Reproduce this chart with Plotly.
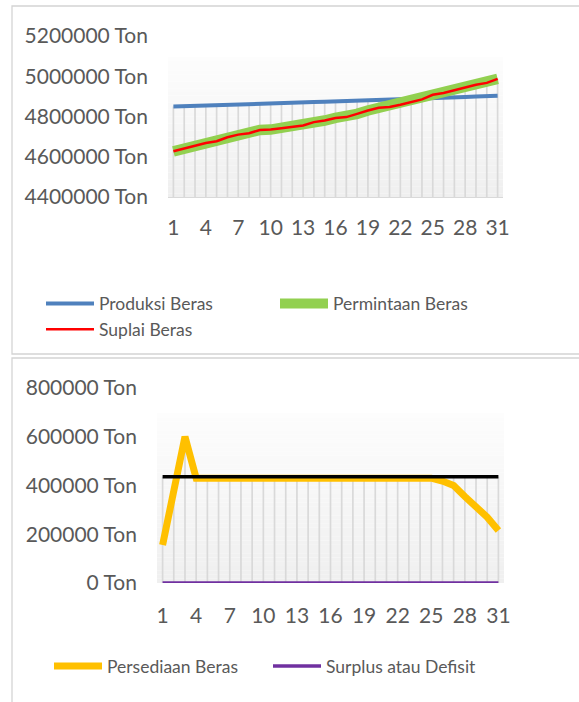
import plotly.graph_objects as go

# ---- data -------------------------------------------------------------
days = [1, 2, 3, 4, 5, 6, 7, 8, 9, 10, 11, 12, 13, 14, 15, 16,
        17, 18, 19, 20, 21, 22, 23, 24, 25, 26, 27, 28, 29, 30, 31]
day_ticks = [1, 4, 7, 10, 13, 16, 19, 22, 25, 28, 31]
day_labels = ["1", "4", "7", "10", "13", "16", "19", "22", "25", "28", "31"]

produksi_beras = [4850000, 4852000, 4854000, 4856000, 4857500, 4859000, 4861000,
                  4862500, 4864000, 4865500, 4867000, 4868500, 4870000, 4871500,
                  4873000, 4874500, 4876000, 4877500, 4879000, 4880500, 4882000,
                  4884000, 4886000, 4888000, 4890000, 4892000, 4894000, 4897000,
                  4899500, 4901500, 4903000]
permintaan_beras = [4627000, 4641000, 4655000, 4668000, 4677000, 4697000, 4710000,
                    4717000, 4733000, 4735000, 4742000, 4750000, 4755000, 4772000,
                    4780000, 4793000, 4797000, 4813000, 4830000, 4843000, 4847000,
                    4858000, 4872000, 4885000, 4908000, 4917000, 4930000, 4945000,
                    4958000, 4967000, 4987000]
suplai_beras = [4627000, 4641000, 4655000, 4668000, 4677000, 4697000, 4710000,
                4717000, 4733000, 4735000, 4742000, 4750000, 4755000, 4772000,
                4780000, 4793000, 4797000, 4813000, 4830000, 4843000, 4847000,
                4858000, 4872000, 4885000, 4908000, 4917000, 4930000, 4945000,
                4958000, 4967000, 4987000]
top_ticks = [4400000, 4600000, 4800000, 5000000, 5200000]
top_labels = ["4400000 Ton", "4600000 Ton", "4800000 Ton", "5000000 Ton", "5200000 Ton"]

persediaan_beras = [156000, 378000, 600000, 430000, 430000, 430000, 430000, 430000,
                    430000, 430000, 430000, 430000, 430000, 430000, 430000, 430000,
                    430000, 430000, 430000, 430000, 430000, 430000, 430000, 430000,
                    430000, 418000, 400000, 355000, 313000, 270000, 215000]
batas_persediaan = [436000, 436000, 436000, 436000, 436000, 436000, 436000, 436000,
                    436000, 436000, 436000, 436000, 436000, 436000, 436000, 436000,
                    436000, 436000, 436000, 436000, 436000, 436000, 436000, 436000,
                    436000, 436000, 436000, 436000, 436000, 436000, 436000]
surplus_defisit = [0, 0, 0, 0, 0, 0, 0, 0, 0, 0, 0, 0, 0, 0, 0, 0,
                   0, 0, 0, 0, 0, 0, 0, 0, 0, 0, 0, 0, 0, 0, 0]
bottom_ticks = [0, 200000, 400000, 600000, 800000]
bottom_labels = ["0 Ton", "200000 Ton", "400000 Ton", "600000 Ton", "800000 Ton"]

# ---- styling ----------------------------------------------------------
W, H = 579, 702
FONT = "Lato"
TXT = "#595959"
GRID = "#d9d9d9"


def px_x(p):
    return p / W


def px_y(p):
    return (H - p) / H


def drop_lines(series_list, base):
    """Vertical drop lines from the highest series value down to the axis."""
    xs, ys = [], []
    for i, d in enumerate(days):
        top = max(s[i] for s in series_list)
        xs += [d, d, None]
        ys += [top, base, None]
    return xs, ys


fig = go.Figure()

# top chart
dx, dy = drop_lines([produksi_beras, permintaan_beras, suplai_beras], top_ticks[0])
fig.add_trace(go.Scatter(x=dx, y=dy, mode="lines", line=dict(color=GRID, width=1.7),
                         showlegend=False, hoverinfo="skip", xaxis="x", yaxis="y"))
fig.add_trace(go.Scatter(x=days, y=produksi_beras, name="Produksi Beras", mode="lines",
                         line=dict(color="#4f81bd", width=4), legend="legend",
                         xaxis="x", yaxis="y"))
fig.add_trace(go.Scatter(x=days, y=permintaan_beras, name="Permintaan Beras", mode="lines",
                         line=dict(color="#92d050", width=10.5), legend="legend",
                         xaxis="x", yaxis="y"))
fig.add_trace(go.Scatter(x=days, y=suplai_beras, name="Suplai Beras", mode="lines",
                         line=dict(color="#ff0000", width=2.5), legend="legend",
                         xaxis="x", yaxis="y"))

# bottom chart
dx2, dy2 = drop_lines([persediaan_beras, batas_persediaan, surplus_defisit], bottom_ticks[0])
fig.add_trace(go.Scatter(x=dx2, y=dy2, mode="lines", line=dict(color=GRID, width=1.7),
                         showlegend=False, hoverinfo="skip", xaxis="x2", yaxis="y2"))
fig.add_trace(go.Scatter(x=days, y=persediaan_beras, name="Persediaan Beras", mode="lines",
                         line=dict(color="#ffc000", width=7), legend="legend2",
                         xaxis="x2", yaxis="y2"))
fig.add_trace(go.Scatter(x=days, y=batas_persediaan, name="Batas Persediaan", mode="lines",
                         line=dict(color="#000000", width=3.5), showlegend=False,
                         xaxis="x2", yaxis="y2"))
fig.add_trace(go.Scatter(x=days, y=surplus_defisit, name="Surplus atau Defisit", mode="lines",
                         line=dict(color="#7030a0", width=3.5), legend="legend2",
                         xaxis="x2", yaxis="y2"))

# plot-area gradient fill (white at top fading to light grey at the axis)
shapes = []
N = 40
frac = 0.87
c_top, c_bot = (253, 253, 253), (239, 239, 239)
for xr, yr in (("x domain", "y domain"), ("x2 domain", "y2 domain")):
    for i in range(N):
        t = (i + 0.5) / N
        c = tuple(round(c_bot[k] + (c_top[k] - c_bot[k]) * t) for k in range(3))
        shapes.append(dict(type="rect", xref=xr, yref=yr, x0=0, x1=1,
                           y0=frac * i / N, y1=frac * (i + 1) / N,
                           fillcolor="rgb(%d,%d,%d)" % c, line=dict(width=0),
                           layer="below"))

# chart frames
shapes.append(dict(type="rect", xref="paper", yref="paper",
                   x0=px_x(12), x1=1.02, y0=px_y(354), y1=px_y(6),
                   line=dict(color="#d4d4d4", width=1.3), layer="below"))
shapes.append(dict(type="rect", xref="paper", yref="paper",
                   x0=px_x(12), x1=1.02, y0=-0.02, y1=px_y(358),
                   line=dict(color="#d4d4d4", width=1.3), layer="below"))

tickfont = dict(family=FONT, size=21, color=TXT)
common_x = dict(range=[0.5, 31.5], tickmode="array", tickvals=day_ticks, ticktext=day_labels,
                showgrid=False, zeroline=False, ticks="", tickfont=tickfont,
                automargin=False, fixedrange=True)
common_y = dict(tickmode="array", showgrid=False, zeroline=False, showline=False,
                ticks="", tickfont=tickfont, ticklabelstandoff=19, automargin=False,
                fixedrange=True)
legend_font = dict(family=FONT, size=17.5, color=TXT)

fig.update_layout(
    width=W, height=H,
    margin=dict(l=0, r=0, t=0, b=0, autoexpand=False),
    paper_bgcolor="white",
    plot_bgcolor="rgba(0,0,0,0)",
    font=dict(family=FONT, color=TXT),
    shapes=shapes,
    xaxis=dict(domain=[px_x(168), px_x(503)], anchor="y", showline=True,
               linecolor=GRID, linewidth=1, ticklabelstandoff=12, **common_x),
    yaxis=dict(domain=[px_y(197), px_y(36)], anchor="x", range=[4400000, 5200000],
               tickvals=top_ticks, ticktext=top_labels, **common_y),
    xaxis2=dict(domain=[px_x(157), px_x(504)], anchor="y2", showline=False,
                ticklabelstandoff=18, **common_x),
    yaxis2=dict(domain=[px_y(583), px_y(388)], anchor="x2", range=[0, 800000],
                tickvals=bottom_ticks, ticktext=bottom_labels, **common_y),
    legend=dict(orientation="h", x=px_x(41), y=px_y(285.5), xanchor="left", yanchor="top",
                itemwidth=48, entrywidth=171, entrywidthmode="pixels",
                bgcolor="rgba(0,0,0,0)", font=legend_font, tracegroupgap=0),
    legend2=dict(orientation="h", x=px_x(49), y=px_y(648), xanchor="left", yanchor="top",
                 itemwidth=48, entrywidth=156, entrywidthmode="pixels",
                 bgcolor="rgba(0,0,0,0)", font=legend_font, tracegroupgap=0),
    showlegend=True,
)

fig.write_html("out.html")
